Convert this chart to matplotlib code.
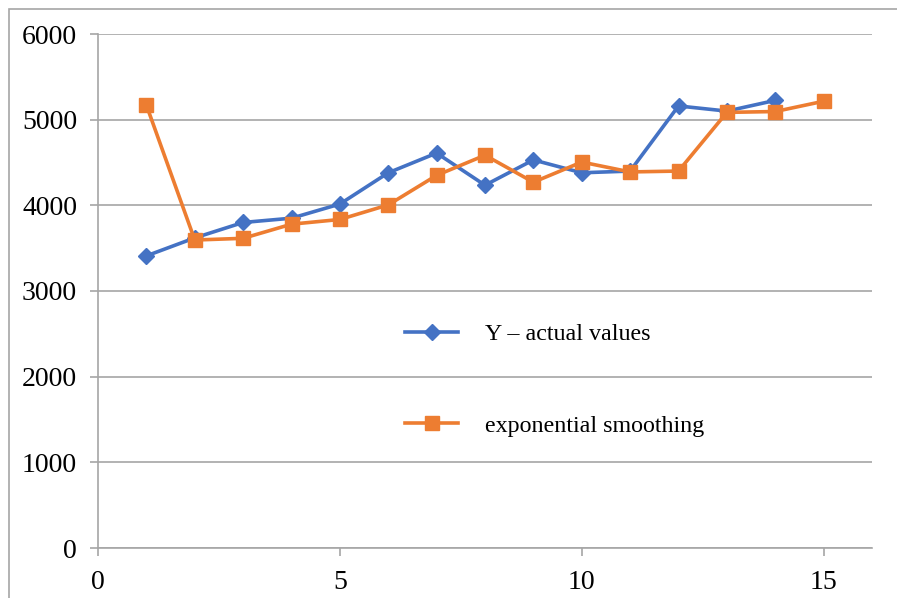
import matplotlib.pyplot as plt
from matplotlib.patches import Rectangle

plt.rcParams['font.family'] = ['Liberation Serif', 'DejaVu Serif']

x_actual = [1, 2, 3, 4, 5, 6, 7, 8, 9, 10, 11, 12, 13, 14]
y_actual = [3410, 3620, 3800, 3850, 4015, 4380, 4610, 4235, 4530, 4380, 4400, 5160, 5100, 5225]
x_smooth = [1, 2, 3, 4, 5, 6, 7, 8, 9, 10, 11, 12, 13, 14, 15]
y_smooth = [5170, 3595, 3615, 3780, 3835, 4005, 4350, 4585, 4270, 4505, 4390, 4400, 5085, 5095, 5215]

fig = plt.figure(figsize=(8.97, 5.98), dpi=100)
ax = fig.add_axes([98 / 897, 1 - 548 / 598, (872 - 98) / 897, (548 - 34) / 598])

ax.plot(x_actual, y_actual, color='#4472C4', lw=2.6, marker='D', ms=8.5,
        label='Y – actual values', zorder=3)
ax.plot(x_smooth, y_smooth, color='#ED7D31', lw=2.6, marker='s', ms=10.5,
        label='exponential smoothing', zorder=3)

ax.set_xlim(0, 16)
ax.set_ylim(0, 6000)
ax.set_xticks([0, 5, 10, 15])
ax.set_yticks(range(0, 6001, 1000))
ax.grid(axis='y', color='#A6A6A6', lw=1.2)
ax.set_axisbelow(True)
for s in ['top', 'right']:
    ax.spines[s].set_visible(False)
for s in ['left', 'bottom']:
    ax.spines[s].set_color('#A6A6A6')
    ax.spines[s].set_linewidth(1.2)
ax.tick_params(colors='#A6A6A6', labelcolor='black', labelsize=20, length=6, width=1.2)
ax.tick_params(axis='y', pad=9)
ax.tick_params(axis='x', pad=10)

ax.legend(loc='center left', bbox_to_anchor=(0.397, 0.327), frameon=False, fontsize=17.3,
          borderpad=0, borderaxespad=0,
          handlelength=2.2, handletextpad=1.1, labelspacing=2.9)

fig.patches.append(Rectangle((9 / 897, -0.1), 1.2, 1 - 9 / 598 + 0.1, transform=fig.transFigure,
                             fill=False, edgecolor='#A6A6A6', lw=1.2))

fig.savefig('out.png', dpi=100)
